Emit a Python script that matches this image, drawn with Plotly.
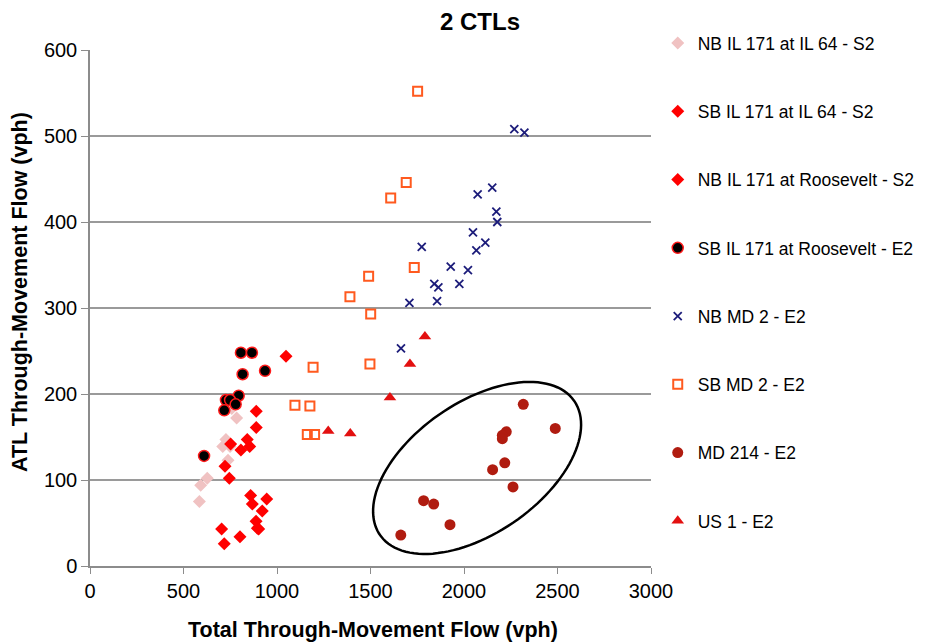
import numpy as np
import plotly.graph_objects as go

# ---- data ----
nb_il64_x = [585, 592, 627, 738, 710, 727, 749, 784, 758]
nb_il64_y = [75, 94, 102, 123, 139, 147, 139, 172, 183]

sb_il64_x = [889, 889, 841, 854, 807, 752, 722, 745]
sb_il64_y = [180, 161, 147, 139, 135, 142, 116, 102]

nb_roos_x = [1048, 859, 945, 868, 921, 888, 902, 895, 704, 802, 718]
nb_roos_y = [244, 82, 78, 72, 64, 52, 43, 44, 43, 34, 26]

sb_roos_x = [807, 866, 816, 936, 795, 727, 749, 779, 718, 610]
sb_roos_y = [248, 248, 223, 227, 198, 193, 193, 188, 181, 128]

nb_md2_x = [2269, 2323, 2151, 2073, 2173, 2178, 2048, 2114, 2066, 1774, 1929, 2021,
            1841, 1863, 1975, 1708, 1856, 1663]
nb_md2_y = [508, 504, 440, 432, 412, 400, 388, 376, 367, 371, 348, 344,
            328, 324, 328, 306, 308, 253]

sb_md2_x = [1752, 1691, 1608, 1734, 1490, 1390, 1501, 1497, 1193, 1096, 1176, 1162, 1201]
sb_md2_y = [552, 446, 428, 347, 337, 313, 293, 235, 231, 187, 186, 153, 153]

md214_x = [2317, 2488, 2226, 2205, 2205, 2218, 2153, 2262, 1784, 1838, 1925, 1662]
md214_y = [188, 160, 156, 152, 148, 120, 112, 92, 76, 72, 48, 36]

us1_x = [1791, 1711, 1604, 1392, 1274]
us1_y = [267, 235, 196, 154, 157]

x_ticks = [0, 500, 1000, 1500, 2000, 2500, 3000]
y_ticks = [0, 100, 200, 300, 400, 500, 600]

FONT = "Arial, Liberation Sans, Helvetica, sans-serif"

fig = go.Figure()

def add(name, xs, ys, symbol, color, size, line_color=None, line_width=0):
    fig.add_trace(go.Scatter(
        x=xs, y=ys, mode="markers", name=name, legendgroup=name,
        marker=dict(symbol=symbol, color=color, size=size,
                    line=dict(color=line_color or color, width=line_width)),
    ))

add("NB IL 171 at IL 64 - S2", nb_il64_x, nb_il64_y, "diamond", "#f0c2c2", 10)
add("SB IL 171 at IL 64 - S2", sb_il64_x, sb_il64_y, "diamond", "#ff0000", 10)
add("NB IL 171 at Roosevelt - S2", nb_roos_x, nb_roos_y, "diamond", "#ff0000", 10)
add("SB IL 171 at Roosevelt - E2", sb_roos_x, sb_roos_y, "circle", "#000000", 11, "#ff1a1a", 1.5)
add("NB MD 2 - E2", nb_md2_x, nb_md2_y, "x-thin-open", "#1c1c7a", 8, "#1c1c7a", 1.8)
add("SB MD 2 - E2", sb_md2_x, sb_md2_y, "square-open", "#ff5a1f", 9, "#ff5a1f", 2)
add("MD 214 - E2", md214_x, md214_y, "circle", "#b01c10", 11)
add("US 1 - E2", us1_x, us1_y, "triangle-up", "#e31010", 11)

# ---- ellipse annotation (drawn in screen-proportional space) ----
X_RANGE = (0, 3000)
Y_RANGE = (0, 600)
PLOT_W, PLOT_H = 561, 516
sx = PLOT_W / (X_RANGE[1] - X_RANGE[0])
sy = PLOT_H / (Y_RANGE[1] - Y_RANGE[0])
cx, cy = 2070, 114          # centre (data)
a_px, b_px, ang = 118, 65.5, np.deg2rad(34.6)
t = np.linspace(0, 2 * np.pi, 120)
ex = a_px * np.cos(t) * np.cos(ang) - b_px * np.sin(t) * np.sin(ang)
ey = a_px * np.cos(t) * np.sin(ang) + b_px * np.sin(t) * np.cos(ang)
px = cx + ex / sx
py = cy + ey / sy
path = "M " + " L ".join(f"{x:.2f},{y:.2f}" for x, y in zip(px, py)) + " Z"
fig.add_shape(type="path", path=path, xref="x", yref="y",
              line=dict(color="black", width=2.5))

# axis titles as annotations for precise placement
fig.add_annotation(text="<b>Total Through-Movement Flow (vph)</b>", xref="paper", yref="paper",
                   x=0.5045, y=0, yshift=-64, showarrow=False, xanchor="center",
                   yanchor="middle", font=dict(size=21.5))
fig.add_annotation(text="<b>ATL Through-Movement Flow (vph)</b>", xref="paper", yref="paper",
                   x=0, xshift=-70, y=0.531, showarrow=False, textangle=-90,
                   xanchor="center", yanchor="middle", font=dict(size=21.5))

FIG_W = 935
fig.update_layout(
    width=FIG_W, height=643,
    margin=dict(l=82, r=FIG_W - 643, t=42, b=85),
    paper_bgcolor="white", plot_bgcolor="white",
    font=dict(family=FONT, size=20, color="black"),
    title=dict(text="<b>2 CTLs</b>", x=472 / FIG_W, xanchor="center",
               y=1 - 14 / 643, yanchor="middle", font=dict(size=24)),
    showlegend=True,
    legend=dict(x=1.012, xanchor="left", y=1.048, yanchor="top",
                font=dict(size=17.5), tracegroupgap=42.5, itemwidth=30,
                maxheight=640,
                bgcolor="rgba(0,0,0,0)"),
    xaxis=dict(range=list(X_RANGE), tickvals=x_ticks,
               showgrid=False, zeroline=False, showline=True, linecolor="#8c8c8c",
               linewidth=1.5, ticks="outside", ticklen=6, tickcolor="#8c8c8c",
               tickfont=dict(size=20)),
    yaxis=dict(range=list(Y_RANGE), tickvals=y_ticks,
               showgrid=True, gridcolor="#9a9a9a", gridwidth=1.5, zeroline=False,
               showline=True, linecolor="#8c8c8c", linewidth=1.5,
               ticks="outside", ticklen=7, tickcolor="#8c8c8c",
               tickfont=dict(size=20)),
)

fig.write_html("out.html")
